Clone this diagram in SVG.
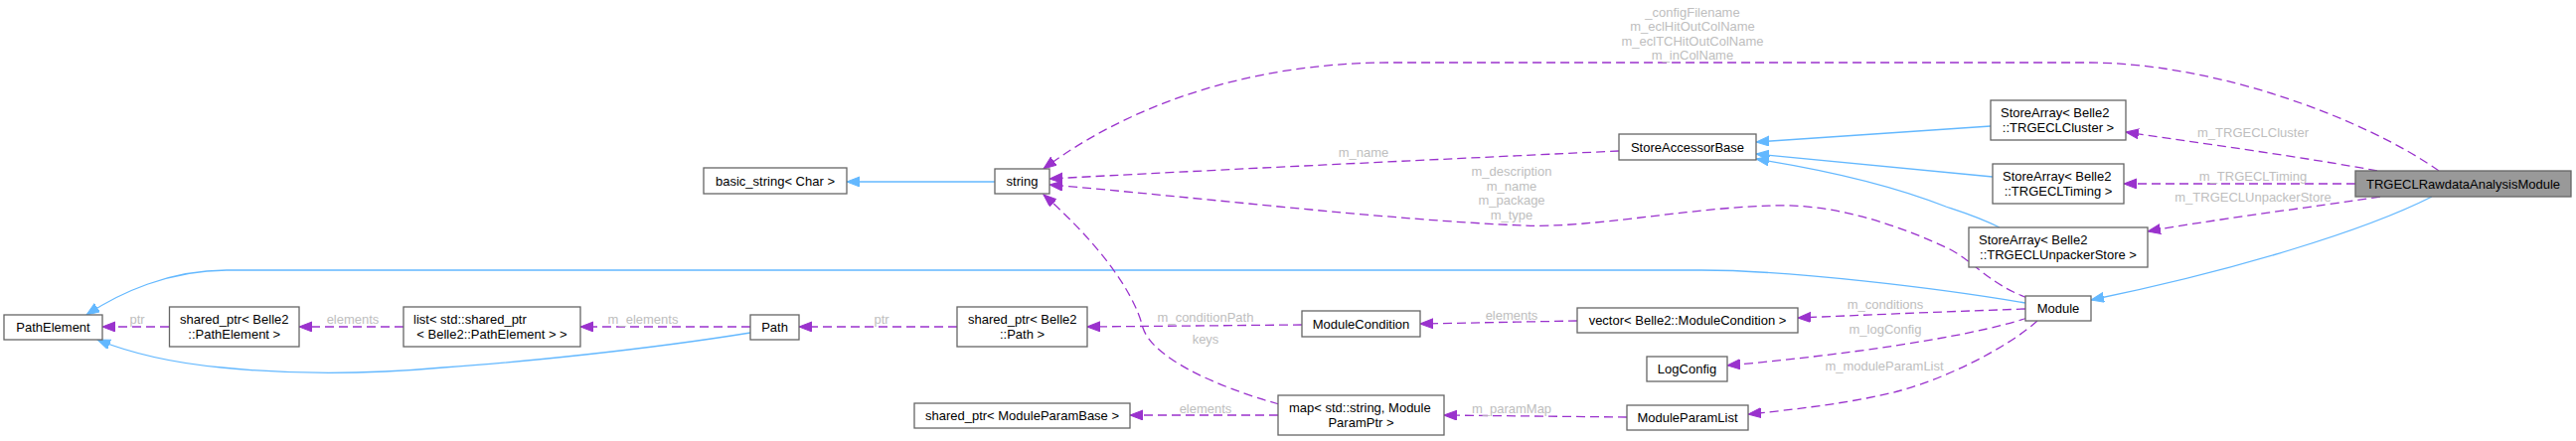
<svg xmlns="http://www.w3.org/2000/svg" width="2592" height="444" viewBox="0 0 2592 444">
<defs>
<style>
.n rect{fill:#fff;stroke:#666;stroke-width:1.3}
.n text,.root text{font-family:"Liberation Sans",Arial,sans-serif;font-size:13px;fill:#000}
.m{text-anchor:middle}
.root rect{fill:#999;stroke:#666;stroke-width:1.3}
.lbl text{font-family:"Liberation Sans",Arial,sans-serif;font-size:13px;fill:#bebebe;text-anchor:middle}
.u{fill:none;stroke:#9a32cd;stroke-width:1.3;stroke-dasharray:9,5;marker-end:url(#ap)}
.b{fill:none;stroke:#63b8ff;stroke-width:1.3;marker-end:url(#ab)}
</style>
<marker id="ap" markerUnits="userSpaceOnUse" markerWidth="14" markerHeight="12" refX="13" refY="5" orient="auto"><path d="M0,0L13,5L0,10z" fill="#9a32cd" stroke="#9a32cd"/></marker>
<marker id="ab" markerUnits="userSpaceOnUse" markerWidth="14" markerHeight="12" refX="13" refY="5" orient="auto"><path d="M0,0L13,5L0,10z" fill="#63b8ff" stroke="#63b8ff"/></marker>
</defs>
<rect width="2592" height="444" fill="#fff"/>
<g id="edges">
<path class="u" d="M2454,172 C2380,120 2230,63 2100,63 L1400,63 C1250,63 1130,110 1050,170"/>
<path class="u" d="M1629,152 C1500,158 1200,172 1056,180"/>
<path class="u" d="M2040,300 C2000,285 1985,262 1960,250 C1900,222 1840,205 1784,207 C1700,209 1600,230 1534,227 C1400,222 1200,198 1056,186"/>
<path class="b" d="M2003,127 L1767,143"/>
<path class="b" d="M2005,178 L1767,155"/>
<path class="b" d="M2012,229 C1990,218 1970,212 1958,208 C1900,185 1830,170 1767,160"/>
<path class="u" d="M2392,172 C2330,160 2200,142 2139,133"/>
<path class="u" d="M2370,185 L2137,185"/>
<path class="u" d="M2395,198 C2330,208 2220,222 2161,233"/>
<path class="b" d="M2447,198 C2380,232 2250,272 2104,302"/>
<path class="b" d="M2038,305 C1950,290 1800,272 1712,272 L228,272 C170,272 120,295 87,317"/>
<path class="u" d="M2038,311 C1950,314 1880,317 1809,320"/>
<path class="u" d="M2040,320 C1980,340 1850,358 1738,368"/>
<path class="u" d="M2050,323 C2020,350 1960,380 1913,393 C1870,405 1800,413 1759,417"/>
<path class="u" d="M1587,323 L1429,326"/>
<path class="u" d="M1310,327 L1094,329"/>
<path class="u" d="M963,329 L804,329"/>
<path class="u" d="M755,329 L584,329"/>
<path class="u" d="M406,329 L301,329"/>
<path class="u" d="M170,329 L103,329"/>
<path class="b" d="M755,335 C650,352 520,365 446,370 C380,376 300,378 223,370 C170,365 130,355 98,342"/>
<path class="b" d="M1001,183 L852,183"/>
<path class="u" d="M1287,407 C1220,388 1160,360 1150,330 C1140,290 1100,240 1050,196"/>
<path class="u" d="M1286,418 L1137,418"/>
<path class="u" d="M1637,420 L1453,418"/>
</g>
<g class="lbl" id="labels">
<text x="138" y="326">ptr</text>
<text x="355" y="326">elements</text>
<text x="647" y="326">m_elements</text>
<text x="887" y="326">ptr</text>
<text x="1213" y="324">m_conditionPath</text>
<text x="1213" y="346">keys</text>
<text x="1213" y="416">elements</text>
<text x="1372" y="158">m_name</text>
<text x="1703" y="17">_configFilename</text>
<text x="1703" y="31">m_eclHitOutColName</text>
<text x="1703" y="46">m_eclTCHitOutColName</text>
<text x="1703" y="60">m_inColName</text>
<text x="1521" y="177">m_description</text>
<text x="1521" y="192">m_name</text>
<text x="1521" y="206">m_package</text>
<text x="1521" y="221">m_type</text>
<text x="1521" y="322">elements</text>
<text x="1521" y="416">m_paramMap</text>
<text x="1897" y="311">m_conditions</text>
<text x="1897" y="336">m_logConfig</text>
<text x="1896" y="373">m_moduleParamList</text>
<text x="2267" y="138">m_TRGECLCluster</text>
<text x="2267" y="182">m_TRGECLTiming</text>
<text x="2267" y="203">m_TRGECLUnpackerStore</text>
</g>
<g id="TRGECLRawdataAnalysisModule" class="root"><rect x="2370" y="172" width="217" height="26"/><text class="m" x="2478.5" y="189.5">TRGECLRawdataAnalysisModule</text></g>
<g id="StoreArrayCluster" class="n"><rect x="2003" y="101" width="136" height="40"/><text x="2013" y="117.5">StoreArray&lt; Belle2</text><text class="m" x="2071" y="132.5">::TRGECLCluster &gt;</text></g>
<g id="StoreArrayTiming" class="n"><rect x="2005" y="165" width="132" height="40"/><text x="2015" y="181.5">StoreArray&lt; Belle2</text><text class="m" x="2071" y="196.5">::TRGECLTiming &gt;</text></g>
<g id="StoreArrayUnpacker" class="n"><rect x="1981" y="229" width="180" height="40"/><text x="1991" y="245.5">StoreArray&lt; Belle2</text><text class="m" x="2071" y="260.5">::TRGECLUnpackerStore &gt;</text></g>
<g id="Module" class="n"><rect x="2038" y="298" width="66" height="25"/><text class="m" x="2071" y="315">Module</text></g>
<g id="StoreAccessorBase" class="n"><rect x="1629" y="135" width="138" height="26"/><text class="m" x="1698" y="152.5">StoreAccessorBase</text></g>
<g id="vectorModuleCondition" class="n"><rect x="1587" y="310" width="222" height="25"/><text class="m" x="1698" y="327">vector&lt; Belle2::ModuleCondition &gt;</text></g>
<g id="LogConfig" class="n"><rect x="1657" y="359" width="81" height="25"/><text class="m" x="1697.5" y="376">LogConfig</text></g>
<g id="ModuleParamList" class="n"><rect x="1637" y="408" width="122" height="25"/><text class="m" x="1698" y="425">ModuleParamList</text></g>
<g id="ModuleCondition" class="n"><rect x="1310" y="313" width="119" height="26"/><text class="m" x="1369.5" y="330.5">ModuleCondition</text></g>
<g id="mapModuleParamPtr" class="n"><rect x="1286" y="398" width="167" height="40"/><text x="1297" y="414.5">map&lt; std::string, Module</text><text class="m" x="1369.5" y="429.5">ParamPtr &gt;</text></g>
<g id="sharedptrModuleParamBase" class="n"><rect x="920" y="406" width="217" height="25"/><text class="m" x="1028.5" y="423">shared_ptr&lt; ModuleParamBase &gt;</text></g>
<g id="sharedptrPath" class="n"><rect x="963" y="309" width="131" height="40"/><text x="974" y="325.5">shared_ptr&lt; Belle2</text><text class="m" x="1028.5" y="340.5">::Path &gt;</text></g>
<g id="string" class="n"><rect x="1001" y="170" width="55" height="25"/><text class="m" x="1028.5" y="187">string</text></g>
<g id="basic_string" class="n"><rect x="708" y="169" width="144" height="26"/><text class="m" x="780" y="186.5">basic_string&lt; Char &gt;</text></g>
<g id="Path" class="n"><rect x="755" y="317" width="49" height="25"/><text class="m" x="779.5" y="334">Path</text></g>
<g id="listPathElement" class="n"><rect x="406" y="309" width="178" height="40"/><text x="416" y="325.5">list&lt; std::shared_ptr</text><text class="m" x="495" y="340.5">&lt; Belle2::PathElement &gt; &gt;</text></g>
<g id="sharedptrPathElement" class="n"><rect x="170.5" y="309" width="130.5" height="40"/><text x="181" y="325.5">shared_ptr&lt; Belle2</text><text class="m" x="235.75" y="340.5">::PathElement &gt;</text></g>
<g id="PathElement" class="n"><rect x="4" y="317" width="99" height="25"/><text class="m" x="53.5" y="334">PathElement</text></g>
</svg>
